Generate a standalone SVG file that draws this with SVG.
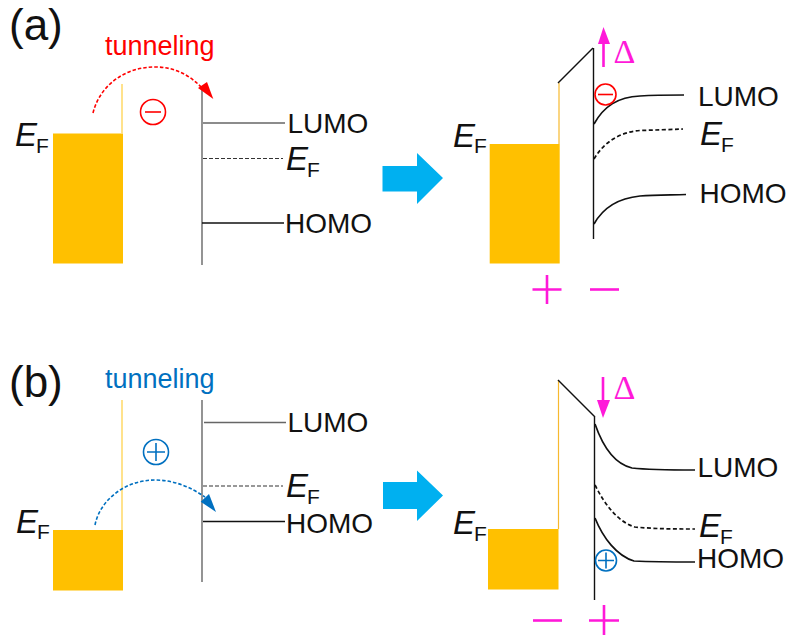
<svg xmlns="http://www.w3.org/2000/svg" width="788" height="636" viewBox="0 0 788 636">
<defs>
<style>
text{font-family:"Liberation Sans",Arial,sans-serif;fill:#111}
.lab{font-size:28px}
.pan{font-size:44px}
.e{font-size:33px;font-style:italic}
.f{font-size:21px}
.t{font-size:27px}
.d{font-family:"Liberation Serif","Times New Roman",serif;font-size:34px;fill:#FF19D9}
.metal{fill:#FFC000}
.y{stroke:#FFD966;stroke-width:1.5;fill:none}
.y2{stroke:#F7B92E;stroke-width:1.2;fill:none}
.g{stroke:#888;stroke-width:1.8;fill:none}
.k{stroke:#111;stroke-width:1.4;fill:none}
.l{stroke:#666;stroke-width:1.4;fill:none}
.da{stroke:#333;stroke-width:1.2;stroke-dasharray:4 2;fill:none}
.cv{stroke:#111;stroke-width:1.7;fill:none}
.cvd{stroke:#111;stroke-width:1.7;stroke-dasharray:4 2.5;fill:none}
.m{stroke:#FF19D9;stroke-width:2.6;fill:none}
.ma{fill:#FF19D9}
.big{fill:#00B0F0}
.r{stroke:#FF0000;stroke-width:1.6;fill:none}
.b{stroke:#0070C0;stroke-width:1.6;fill:none}
</style>
</defs>
<g id="panel-labels">
<text class="pan" x="9" y="40">(a)</text>
<text class="pan" x="9" y="397">(b)</text>
</g>
<g id="a-left-metal">
<rect class="metal" x="53" y="133.500" width="70" height="130"/>
<path class="y" d="M122 84V133"/>
<text class="e" x="15" y="146">E</text><text class="f" x="36" y="153">F</text>
</g>
<g id="a-left-molecule">
<path class="g" d="M202 90V265"/>
<path class="l" d="M203 123H285"/><path class="da" d="M203 158.500H283"/><path class="k" d="M202 223H284"/>
<text class="lab" x="287.500" y="132.500">LUMO</text>
<text class="e" x="286" y="170">E</text><text class="f" x="307" y="176.500">F</text>
<text class="lab" x="285" y="233">HOMO</text>
</g>
<g id="a-left-charge">
<circle class="r" cx="153" cy="112" r="12.500"/><path class="r" d="M145 112H161"/>
<text class="t" x="105" y="55" style="fill:#FF0000">tunneling</text>
</g>
<g id="a-right-metal">
<rect class="metal" x="489.700" y="144" width="70" height="119.500"/>
<path class="y2" d="M559 83V144"/>
<text class="e" x="453" y="146.500">E</text><text class="f" x="474" y="153">F</text>
</g>
<g id="a-right-molecule">
<path class="k" d="M558 83L593 48"/>
<path class="k" d="M593.500 48V239"/>
<path class="cv" d="M594 124C604 106 618 97 640 96C655 95 670 95 684 95"/>
<path class="cvd" d="M594 159C604 142 620 132 640 130.500C655 130 670 129.500 683 129"/>
<path class="cv" d="M594 224C604 206 620 198 640 196C655 195 670 195 686 194.500"/>
<text class="lab" x="698" y="105.500">LUMO</text>
<text class="e" x="700" y="145">E</text><text class="f" x="721" y="151.500">F</text>
<text class="lab" x="699.500" y="203">HOMO</text>
<circle class="r" cx="605.500" cy="94.500" r="10.500"/><path class="r" d="M598 94.500H613"/>
<path class="m" d="M603.500 67V42"/><path class="ma" d="M603.500 27L610 44H598Z"/>
<text class="d" x="613.500" y="63">Δ</text>
<path class="m" d="M532.500 289.500H561.500M547 275V304"/><path class="m" d="M590 289.500H619"/>
</g>
<g id="b-left-metal">
<rect class="metal" x="53" y="530" width="70" height="60.500"/>
<path class="y" d="M122 400V530"/>
<text class="e" x="16" y="532.500">E</text><text class="f" x="37" y="539">F</text>
</g>
<g id="b-left-molecule">
<path class="g" d="M202 400V582"/>
<path class="l" d="M204 422.500H286"/><path class="da" d="M203 486H283"/><path class="k" d="M203 521.500H285"/>
<text class="lab" x="287.500" y="431.500">LUMO</text>
<text class="e" x="286" y="497">E</text><text class="f" x="307" y="503.500">F</text>
<text class="lab" x="286" y="533">HOMO</text>
</g>
<g id="b-left-charge">
<circle class="b" cx="156" cy="452" r="12.500"/><path class="b" d="M147 452H165M156 443V461"/>
<text class="t" x="105" y="388" style="fill:#0070C0">tunneling</text>
</g>
<g id="b-right-metal">
<rect class="metal" x="488" y="529" width="70.500" height="60.500"/>
<path class="y2" d="M558.500 380V529"/>
<text class="e" x="453" y="534">E</text><text class="f" x="474" y="541">F</text>
</g>
<g id="b-right-molecule">
<path class="k" d="M558 380L595 417"/>
<path class="k" d="M594.500 417V600"/>
<path class="cv" d="M595 424C603 447 615 464 632 468C650 470 675 470 695 470"/>
<path class="cvd" d="M595 485C605 505 618 522 635 527C655 529 675 529 695 529"/>
<path class="cv" d="M595 518C603 538 617 556 634 561C655 562 675 562 695 562"/>
<text class="lab" x="697.500" y="477">LUMO</text>
<text class="e" x="699" y="537">E</text><text class="f" x="720" y="543.500">F</text>
<text class="lab" x="697" y="568">HOMO</text>
<circle class="b" cx="606" cy="560.500" r="10.500"/><path class="b" d="M598 560.500H614M606 552.500V568.500"/>
<path class="m" d="M603 377V402"/><path class="ma" d="M603 418L597 400H610Z"/>
<text class="d" x="613.500" y="399">Δ</text>
<path class="m" d="M533 620.500H562"/><path class="m" d="M589 620.500H619M604 605V635"/>
</g>
<g id="connectors">
<path class="big" d="M382.500 166H417V153L443 178L417 204V191.500H382.500Z"/>
<path class="big" d="M383 482H417V470.500L443 495.500L417 521V509H383Z"/>
<path d="M93 113C100 85 125 67 155 67C175 67 190 75 203 89" fill="none" stroke="#FF0000" stroke-width="1.600" stroke-dasharray="3.500 2"/>
<path d="M213.300 99L198 88L207 82Z" fill="#FF0000"/>
<path d="M95 525C100 500 125 480 155 480C175 480 192 488 205 497" fill="none" stroke="#0070C0" stroke-width="1.600" stroke-dasharray="3.500 2"/>
<path d="M216 512L200.700 501.700L209 494Z" fill="#0070C0"/>
</g>
</svg>
